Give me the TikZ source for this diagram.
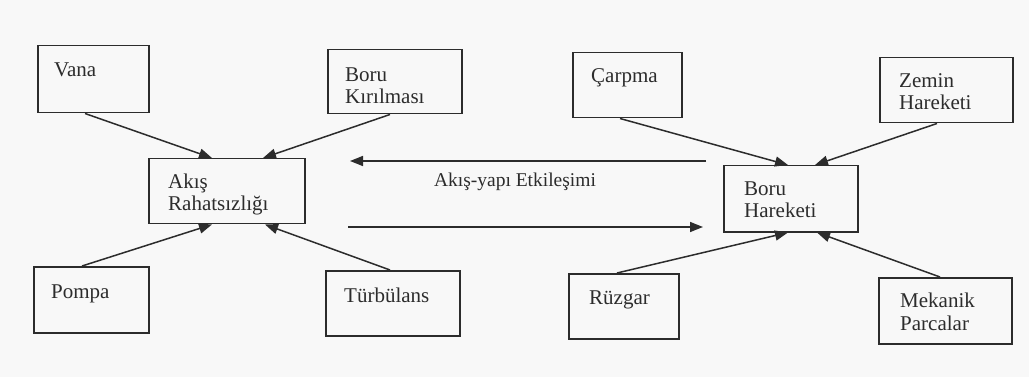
\documentclass[tikz,border=0pt]{standalone}
\usepackage{fontspec}
\setmainfont{Liberation Serif}
\usetikzlibrary{arrows.meta,calc}

\definecolor{ink}{HTML}{2C2C2C}
\definecolor{paper}{HTML}{F8F8F8}

\tikzset{
  box/.style={draw=ink, line width=1.5pt, anchor=north west, inner sep=0pt},
  % base west of a caption sits on the baseline of its last line
  boxtext/.style={anchor=base west, inner sep=0pt, text=ink, align=left,
    font=\fontsize{21}{22.5}\selectfont},
  flow/.style={draw=ink, line width=1.5pt, -{Triangle[length=13pt,width=10pt]}},
  flowlabel/.style={anchor=base, inner sep=0pt, text=ink,
    font=\fontsize{19.5}{22}\selectfont},
}

\begin{document}
\begin{tikzpicture}[x=1pt, y=-1pt]
  % page
  \fill[paper] (0,0) rectangle (1029,377);
  \useasboundingbox (0,0) rectangle (1029,377);

  % left group: causes of flow disturbance
  \node[box, minimum width=111pt, minimum height=67pt] (vana)  at (37,45)  {};
  \node[box, minimum width=134pt, minimum height=64pt] (boruk) at (327,49) {};
  \node[box, minimum width=156pt, minimum height=65pt] (akis)  at (148,158) {};
  \node[box, minimum width=115pt, minimum height=66pt] (pompa) at (33,266) {};
  \node[box, minimum width=134pt, minimum height=65pt] (turb)  at (325,270) {};

  % right group: causes of pipe motion
  \node[box, minimum width=109pt, minimum height=65pt] (carpma)  at (572,52)  {};
  \node[box, minimum width=133pt, minimum height=65pt] (zemin)   at (879,57)  {};
  \node[box, minimum width=134pt, minimum height=66pt] (boruh)   at (723,165) {};
  \node[box, minimum width=110pt, minimum height=65pt] (ruzgar)  at (568,273) {};
  \node[box, minimum width=133pt, minimum height=66pt] (mekanik) at (878,277) {};

  % box captions
  \node[boxtext] (vana-t)    at ([xshift=17pt,yshift=-32pt]vana.north west)    {Vana};
  \node[boxtext] (boruk-t)   at ([xshift=18pt,yshift=-55pt]boruk.north west)   {Boru\\Kırılması};
  \node[boxtext] (akis-t)    at ([xshift=20pt,yshift=-53pt]akis.north west)    {Akış\\Rahatsızlığı};
  \node[boxtext] (pompa-t)   at ([xshift=18pt,yshift=-32pt]pompa.north west)   {Pompa};
  \node[boxtext] (turb-t)    at ([xshift=19pt,yshift=-32pt]turb.north west)    {Türbülans};
  \node[boxtext] (carpma-t)  at ([xshift=19pt,yshift=-31pt]carpma.north west)  {Çarpma};
  \node[boxtext] (zemin-t)   at ([xshift=20pt,yshift=-53pt]zemin.north west)   {Zemin\\Hareketi};
  \node[boxtext] (boruh-t)   at ([xshift=21pt,yshift=-53pt]boruh.north west)   {Boru\\Hareketi};
  \node[boxtext] (ruzgar-t)  at ([xshift=21pt,yshift=-31pt]ruzgar.north west)  {Rüzgar};
  \node[boxtext] (mekanik-t) at ([xshift=22pt,yshift=-53pt]mekanik.north west) {Mekanik\\Parcalar};

  % arrows into the flow disturbance box
  \draw[flow] ([xshift=48pt]vana.south west)  -- ([xshift=64pt]akis.north west);
  \draw[flow] ([xshift=63pt]boruk.south west) -- ([xshift=115pt]akis.north west);
  \draw[flow] ([xshift=49pt]pompa.north west) -- ([xshift=64pt]akis.south west);
  \draw[flow] ([xshift=65pt]turb.north west)  -- ([xshift=117pt]akis.south west);

  % arrows into the pipe motion box
  \draw[flow] ([xshift=48pt]carpma.south west)  -- ([xshift=65pt]boruh.north west);
  \draw[flow] ([xshift=58pt]zemin.south west)   -- ([xshift=92pt]boruh.north west);
  \draw[flow] ([xshift=49pt]ruzgar.north west)  -- ([xshift=65pt]boruh.south west);
  \draw[flow] ([xshift=62pt]mekanik.north west) -- ([xshift=94pt]boruh.south west);

  % fluid-structure interaction, both ways
  \coordinate (fsiTopR) at (706,161);
  \coordinate (fsiTopL) at (350,161);
  \coordinate (fsiBotL) at (348,227);
  \coordinate (fsiBotR) at (703,227);
  \draw[flow] (fsiTopR) -- (fsiTopL);
  \draw[flow] (fsiBotL) -- (fsiBotR);
  \node[flowlabel] (fsi) at (515,187) {Akış-yapı Etkileşimi};
\end{tikzpicture}
\end{document}
